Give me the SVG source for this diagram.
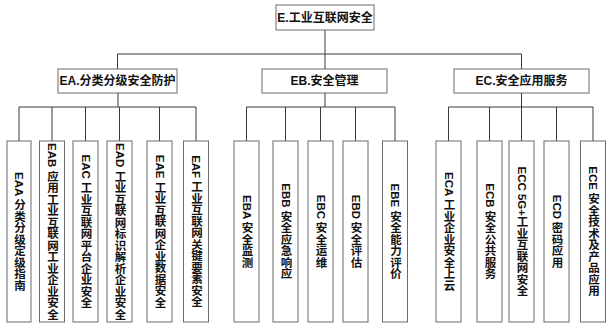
<svg xmlns="http://www.w3.org/2000/svg" width="610" height="330" viewBox="0 0 610 330">
<style>
.bg{fill:#ffffff}
.box{fill:#ffffff;stroke:#6a6a6a;stroke-width:1}
.ln{fill:none;stroke:#3a3a3a;stroke-width:1}
.t{font-family:"Liberation Sans","Noto Sans CJK SC",sans-serif;font-weight:bold;font-size:12px;fill:#111}
.h{text-anchor:middle;dominant-baseline:central}
.v{writing-mode:vertical-rl;text-anchor:middle;dominant-baseline:central;font-size:11.5px}
</style>
<rect class="bg" x="0" y="0" width="610" height="330"/>
<g id="connectors">
<path class="ln" d="M325 30V54M117.5 54H521.5M117.5 54V69M325 54V69M521.5 54V69"/>
<path class="ln" d="M118 93V107M19 107H196M19 107V141M52 107V141M85.5 107V141M119.5 107V141M159.5 107V141M196 107V141"/>
<path class="ln" d="M325 93V107M246.5 107H395M246.5 107V141M285.5 107V141M320.5 107V141M355.5 107V141M395 107V141"/>
<path class="ln" d="M521.5 93V107M448.5 107H593M448.5 107V141M489.5 107V141M521.5 107V141M556.5 107V141M593 107V141"/>
</g>
<g id="E"><rect class="box" x="276" y="5" width="98" height="25"/><text class="t h" x="325" y="17.5">E.工业互联网安全</text></g>
<g id="EA"><rect class="box" x="58" y="69" width="119" height="24"/><text class="t h" x="117.5" y="81">EA.分类分级安全防护</text></g>
<g id="EB"><rect class="box" x="262" y="69" width="125" height="24"/><text class="t h" x="324.5" y="81">EB.安全管理</text></g>
<g id="EC"><rect class="box" x="454" y="69" width="135" height="24"/><text class="t h" x="521.5" y="81">EC.安全应用服务</text></g>
<g id="EAA"><rect class="box" x="7" y="141" width="24" height="181"/><text class="t v" x="19" y="231.5">EAA 分类分级定级指南</text></g>
<g id="EAB"><rect class="box" x="39.5" y="141" width="25" height="181"/><text class="t v" x="52" y="231.5">EAB 应用工业互联网工业企业安全</text></g>
<g id="EAC"><rect class="box" x="73" y="141" width="25" height="181"/><text class="t v" x="85.5" y="231.5">EAC 工业互联网平台企业安全</text></g>
<g id="EAD"><rect class="box" x="107" y="141" width="25" height="181"/><text class="t v" x="119.5" y="231.5">EAD 工业互联网标识解析企业安全</text></g>
<g id="EAE"><rect class="box" x="147" y="141" width="25" height="181"/><text class="t v" x="159.5" y="231.5">EAE 工业互联网企业数据安全</text></g>
<g id="EAF"><rect class="box" x="183.5" y="141" width="25" height="181"/><text class="t v" x="196" y="231.5">EAF 工业互联网关键要素安全</text></g>
<g id="EBA"><rect class="box" x="234" y="141" width="25" height="181"/><text class="t v" x="246.5" y="231.5">EBA 安全监测</text></g>
<g id="EBB"><rect class="box" x="273" y="141" width="25" height="181"/><text class="t v" x="285.5" y="231.5">EBB 安全应急响应</text></g>
<g id="EBC"><rect class="box" x="308" y="141" width="25" height="181"/><text class="t v" x="320.5" y="231.5">EBC 安全运维</text></g>
<g id="EBD"><rect class="box" x="343" y="141" width="25" height="181"/><text class="t v" x="355.5" y="231.5">EBD 安全评估</text></g>
<g id="EBE"><rect class="box" x="382.5" y="141" width="25" height="181"/><text class="t v" x="395" y="231.5">EBE 安全能力评价</text></g>
<g id="ECA"><rect class="box" x="436" y="141" width="25" height="181"/><text class="t v" x="448.5" y="231.5">ECA 工业企业安全上云</text></g>
<g id="ECB"><rect class="box" x="477" y="141" width="25" height="181"/><text class="t v" x="489.5" y="231.5">ECB 安全公共服务</text></g>
<g id="ECC"><rect class="box" x="509" y="141" width="25" height="181"/><text class="t v" x="521.5" y="231.5">ECC 5G+工业互联网安全</text></g>
<g id="ECD"><rect class="box" x="544" y="141" width="25" height="181"/><text class="t v" x="556.5" y="231.5">ECD 密码应用</text></g>
<g id="ECE"><rect class="box" x="580.5" y="141" width="25" height="181"/><text class="t v" x="593" y="231.5">ECE 安全技术及产品应用</text></g>
</svg>
